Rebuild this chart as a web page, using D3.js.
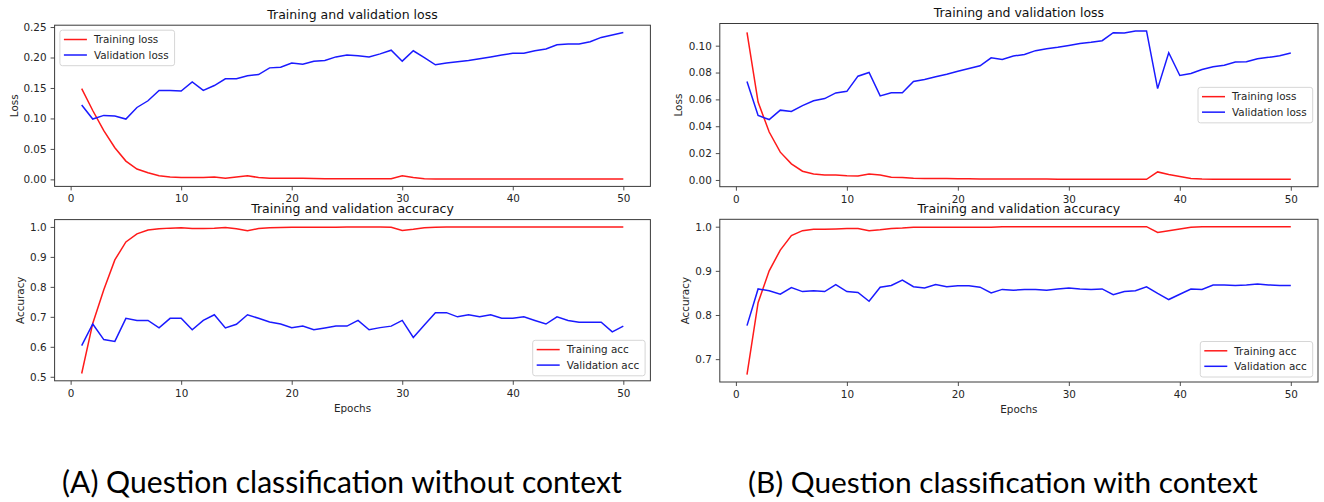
<!DOCTYPE html>
<html>
<head>
<meta charset="utf-8">
<script src="https://cdn.jsdelivr.net/npm/d3@7"></script>
<style>
  body { margin: 0; background: #fff; }
  svg { display: block; }
</style>
</head>
<body>
<script>
//------------ DATA ----------------------
const epochs = d3.range(1, 51);
const epochTicks = [0, 10, 20, 30, 40, 50];

// (A) without context
const lossTrainA = [
  0.149, 0.113, 0.080, 0.052, 0.030, 0.017, 0.011, 0.006, 0.004, 0.003,
  0.003, 0.003, 0.004, 0.002, 0.004, 0.006, 0.003, 0.002, 0.002, 0.002,
  0.002, 0.0015, 0.001, 0.001, 0.001, 0.001, 0.001, 0.001, 0.001, 0.006,
  0.003, 0.001, 0.0008, 0.0008, 0.0007, 0.0007, 0.0007, 0.0006, 0.0006, 0.0006,
  0.0006, 0.0005, 0.0005, 0.0005, 0.0005, 0.0005, 0.0005, 0.0005, 0.0005, 0.0005
];
const lossValA = [
  0.122, 0.099, 0.105, 0.104, 0.099, 0.118, 0.129, 0.146, 0.146, 0.145,
  0.160, 0.146, 0.154, 0.165, 0.165, 0.170, 0.172, 0.183, 0.184, 0.191,
  0.189, 0.194, 0.195, 0.201, 0.204, 0.203, 0.201, 0.206, 0.212, 0.194,
  0.211, 0.200, 0.188, 0.191, 0.193, 0.195, 0.198, 0.201, 0.204, 0.207,
  0.207, 0.211, 0.214, 0.221, 0.222, 0.222, 0.226, 0.233, 0.237, 0.241
];
const accTrainA = [
  0.511, 0.678, 0.790, 0.890, 0.950, 0.977, 0.990, 0.994, 0.996, 0.997,
  0.995, 0.995, 0.996, 0.998, 0.994, 0.987, 0.995, 0.997, 0.998, 0.999,
  0.999, 0.999, 0.999, 0.999, 1.000, 1.000, 1.000, 1.000, 0.999, 0.988,
  0.992, 0.997, 0.999, 1.000, 1.000, 1.000, 1.000, 1.000, 1.000, 1.000,
  1.000, 1.000, 1.000, 1.000, 1.000, 1.000, 1.000, 1.000, 1.000, 1.000
];
const accValA = [
  0.604, 0.676, 0.624, 0.618, 0.695, 0.688, 0.688, 0.663, 0.695, 0.695,
  0.657, 0.688, 0.707, 0.663, 0.675, 0.707, 0.695, 0.683, 0.676, 0.664,
  0.669, 0.657, 0.663, 0.669, 0.669, 0.688, 0.657, 0.664, 0.669, 0.688,
  0.631, 0.673, 0.714, 0.714, 0.700, 0.707, 0.700, 0.707, 0.695, 0.695,
  0.700, 0.688, 0.676, 0.700, 0.688, 0.682, 0.682, 0.682, 0.650, 0.669
];

// (B) with context
const lossTrainB = [
  0.110, 0.058, 0.0357, 0.0207, 0.012, 0.0065, 0.0045, 0.0037, 0.0037, 0.0032,
  0.003, 0.0045, 0.0037, 0.002, 0.0018, 0.0012, 0.001, 0.001, 0.001, 0.0009,
  0.0009, 0.0008, 0.0008, 0.0008, 0.0007, 0.0007, 0.0007, 0.0007, 0.0006, 0.0006,
  0.0006, 0.0006, 0.0006, 0.0005, 0.0005, 0.0005, 0.0005, 0.006, 0.004, 0.0025,
  0.001, 0.0007, 0.0006, 0.0005, 0.0005, 0.0005, 0.0005, 0.0005, 0.0005, 0.0005
];
const lossValB = [
  0.0733, 0.048, 0.045, 0.052, 0.051, 0.0554, 0.059, 0.0606, 0.0648, 0.066,
  0.0773, 0.080, 0.0626, 0.065, 0.065, 0.0733, 0.0748, 0.0768, 0.0788, 0.081,
  0.083, 0.085, 0.091, 0.0898, 0.0923, 0.0935, 0.0963, 0.0978, 0.0988, 0.1002,
  0.1017, 0.1025, 0.1037, 0.1097, 0.1095, 0.111, 0.111, 0.068, 0.0948, 0.0778,
  0.0793, 0.0823, 0.0843, 0.0855, 0.0878, 0.088, 0.0903, 0.0913, 0.0925, 0.0945
];
const accTrainB = [
  0.665, 0.828, 0.900, 0.947, 0.980, 0.991, 0.994, 0.994, 0.995, 0.996,
  0.996, 0.991, 0.993, 0.996, 0.997, 0.999, 0.999, 0.999, 0.999, 0.999,
  0.999, 0.999, 0.999, 1.000, 1.000, 1.000, 1.000, 1.000, 1.000, 1.000,
  1.000, 1.000, 1.000, 1.000, 1.000, 1.000, 1.000, 0.987, 0.991, 0.995,
  0.999, 1.000, 1.000, 1.000, 1.000, 1.000, 1.000, 1.000, 1.000, 1.000
];
const accValB = [
  0.776, 0.859, 0.855, 0.847, 0.862, 0.853, 0.855, 0.853, 0.869, 0.853,
  0.851, 0.831, 0.863, 0.867, 0.879, 0.864, 0.861, 0.869, 0.864, 0.866,
  0.866, 0.863, 0.850, 0.858, 0.856, 0.858, 0.858, 0.856, 0.859, 0.861,
  0.859, 0.858, 0.859, 0.846, 0.853, 0.855, 0.864, 0.849, 0.835, 0.847,
  0.859, 0.858, 0.868, 0.868, 0.867, 0.868, 0.870, 0.868, 0.867, 0.867
];

const lossTicksA = [0, 0.05, 0.10, 0.15, 0.20, 0.25];
const accTicksA = [0.5, 0.6, 0.7, 0.8, 0.9, 1.0];
const lossTicksB = [0, 0.02, 0.04, 0.06, 0.08, 0.10];
const accTicksB = [0.7, 0.8, 0.9, 1.0];

const lossNames = ["Training loss", "Validation loss"];
const accNames = ["Training acc", "Validation acc"];
const captions = ["(A) Question classification without context", "(B) Question classification with context"];
//----------------------------------------

const width = 1324, height = 502;
const FONT = "'DejaVu Sans', sans-serif";
const TXT = "#262626", SPINE = "#3a3a3a";

var svg = d3.select("body").append("svg")
    .attr("width", width)
    .attr("height", height)
    .style("font-family", FONT);

//------------ ONE SUBPLOT ----------------------
function drawPlot(o) {
    var g = svg.append("g");

    var x = d3.scaleLinear()
        .domain([1 - 0.05 * 49, 50 + 0.05 * 49])
        .range([o.x0, o.x1]);

    // matplotlib style 5% margin around the data
    var ext = d3.extent(o.train.concat(o.val)),
        pad = (ext[1] - ext[0]) * 0.05;
    var y = d3.scaleLinear()
        .domain([ext[0] - pad, ext[1] + pad])
        .range([o.y1, o.y0]);

    var xAxis = g.append("g")
        .attr("transform", "translate(0," + o.y1 + ")")
        .call(d3.axisBottom(x).tickValues(epochTicks).tickSize(4).tickPadding(4.5));
    var yAxis = g.append("g")
        .attr("transform", "translate(" + o.x0 + ",0)")
        .call(d3.axisLeft(y).tickValues(o.ticks).tickFormat(d3.format(o.fmt)).tickSize(4).tickPadding(4));

    [xAxis, yAxis].forEach(function(a) {
        a.select(".domain").remove();
        a.selectAll(".tick line").attr("stroke", SPINE).attr("stroke-width", 0.9);
        a.selectAll(".tick text")
            .attr("fill", TXT)
            .style("font-family", FONT)
            .style("font-size", "10.4px");
    });

    var line = d3.line()
        .x(function(d, i) { return x(epochs[i]); })
        .y(function(d) { return y(d); });

    g.append("path").datum(o.train)
        .attr("d", line).attr("fill", "none")
        .attr("stroke", "#ff1a1a").attr("stroke-width", 1.5);
    g.append("path").datum(o.val)
        .attr("d", line).attr("fill", "none")
        .attr("stroke", "#1a1aff").attr("stroke-width", 1.5);

    // frame
    g.append("rect")
        .attr("x", o.x0).attr("y", o.y0)
        .attr("width", o.x1 - o.x0).attr("height", o.y1 - o.y0)
        .attr("fill", "none").attr("stroke", SPINE).attr("stroke-width", 1);

    // title
    g.append("text")
        .attr("x", (o.x0 + o.x1) / 2).attr("y", o.y0 - 6.5)
        .attr("text-anchor", "middle")
        .attr("fill", "#111")
        .style("font-size", "12.5px")
        .text(o.title);

    // y label
    g.append("text")
        .attr("transform", "translate(" + o.ylabelX + "," + ((o.y0 + o.y1) / 2) + ") rotate(-90)")
        .attr("dy", "0.35em")
        .attr("text-anchor", "middle")
        .attr("fill", TXT)
        .style("font-size", "10.4px")
        .text(o.ylabel);

    if (o.xlabel) {
        g.append("text")
            .attr("x", (o.x0 + o.x1) / 2).attr("y", o.y1 + 31)
            .attr("text-anchor", "middle")
            .attr("fill", TXT)
            .style("font-size", "10.4px")
            .text(o.xlabel);
    }

    drawLegend(g, o);
}

//------------ LEGEND ----------------------
function drawLegend(g, o) {
    var lg = g.append("g");
    var box = lg.append("rect")
        .attr("rx", 2.5)
        .attr("fill", "#fff").attr("fill-opacity", 0.85)
        .attr("stroke", "#d6d6d6").attr("stroke-width", 1);

    var maxW = 0;
    o.names.forEach(function(name, i) {
        var t = lg.append("text")
            .attr("x", 34).attr("y", 9.3 + i * 15.5 + 3.8)
            .attr("fill", TXT)
            .style("font-size", "10.4px")
            .text(name);
        maxW = Math.max(maxW, t.node().getComputedTextLength());
        lg.append("line")
            .attr("x1", 4).attr("x2", 27)
            .attr("y1", 9.3 + i * 15.5).attr("y2", 9.3 + i * 15.5)
            .attr("stroke", i === 0 ? "#ff1a1a" : "#1a1aff")
            .attr("stroke-width", 1.5);
    });

    var w = 34 + maxW + 6, h = 35.5;
    box.attr("width", w).attr("height", h);

    var lx, ly;
    if (o.legend === "upper left") { lx = o.x0 + 5.3; ly = o.y0 + 5; }
    else if (o.legend === "center right") { lx = o.x1 - 5.3 - w; ly = (o.y0 + o.y1) / 2 - h / 2; }
    else { lx = o.x1 - 5.3 - w; ly = o.y1 - 5 - h; }
    lg.attr("transform", "translate(" + lx + "," + ly + ")");
}

//------------ PANELS ----------------------
drawPlot({
    x0: 54.6, x1: 650.4, y0: 25.2, y1: 186.4,
    train: lossTrainA, val: lossValA, ticks: lossTicksA, fmt: ".2f",
    title: "Training and validation loss", ylabel: "Loss", ylabelX: 14,
    names: lossNames, legend: "upper left"
});
drawPlot({
    x0: 54.6, x1: 650.4, y0: 219.6, y1: 380.8,
    train: accTrainA, val: accValA, ticks: accTicksA, fmt: ".1f",
    title: "Training and validation accuracy", ylabel: "Accuracy", ylabelX: 20.5,
    xlabel: "Epochs", names: accNames, legend: "lower right"
});
drawPlot({
    x0: 719.8, x1: 1318, y0: 23.5, y1: 186.7,
    train: lossTrainB, val: lossValB, ticks: lossTicksB, fmt: ".2f",
    title: "Training and validation loss", ylabel: "Loss", ylabelX: 678.3,
    names: lossNames, legend: "center right"
});
drawPlot({
    x0: 719.8, x1: 1318, y0: 219.3, y1: 382,
    train: accTrainB, val: accValB, ticks: accTicksB, fmt: ".1f",
    title: "Training and validation accuracy", ylabel: "Accuracy", ylabelX: 685,
    xlabel: "Epochs", names: accNames, legend: "lower right"
});

//------------ CAPTIONS ----------------------
var capPos = [[62, 622], [748, 1258]];
captions.forEach(function(c, i) {
    var t = svg.append("text")
        .attr("x", capPos[i][0]).attr("y", 493)
        .attr("fill", "#000")
        .style("font-family", "Lato, 'Open Sans', sans-serif")
        .style("font-size", "28px")
        .text(c);
    // fit the font size to the measured caption width
    var len = t.node().getComputedTextLength();
    t.style("font-size", (28 * (capPos[i][1] - capPos[i][0]) / len) + "px");
});
</script>
</body>
</html>
